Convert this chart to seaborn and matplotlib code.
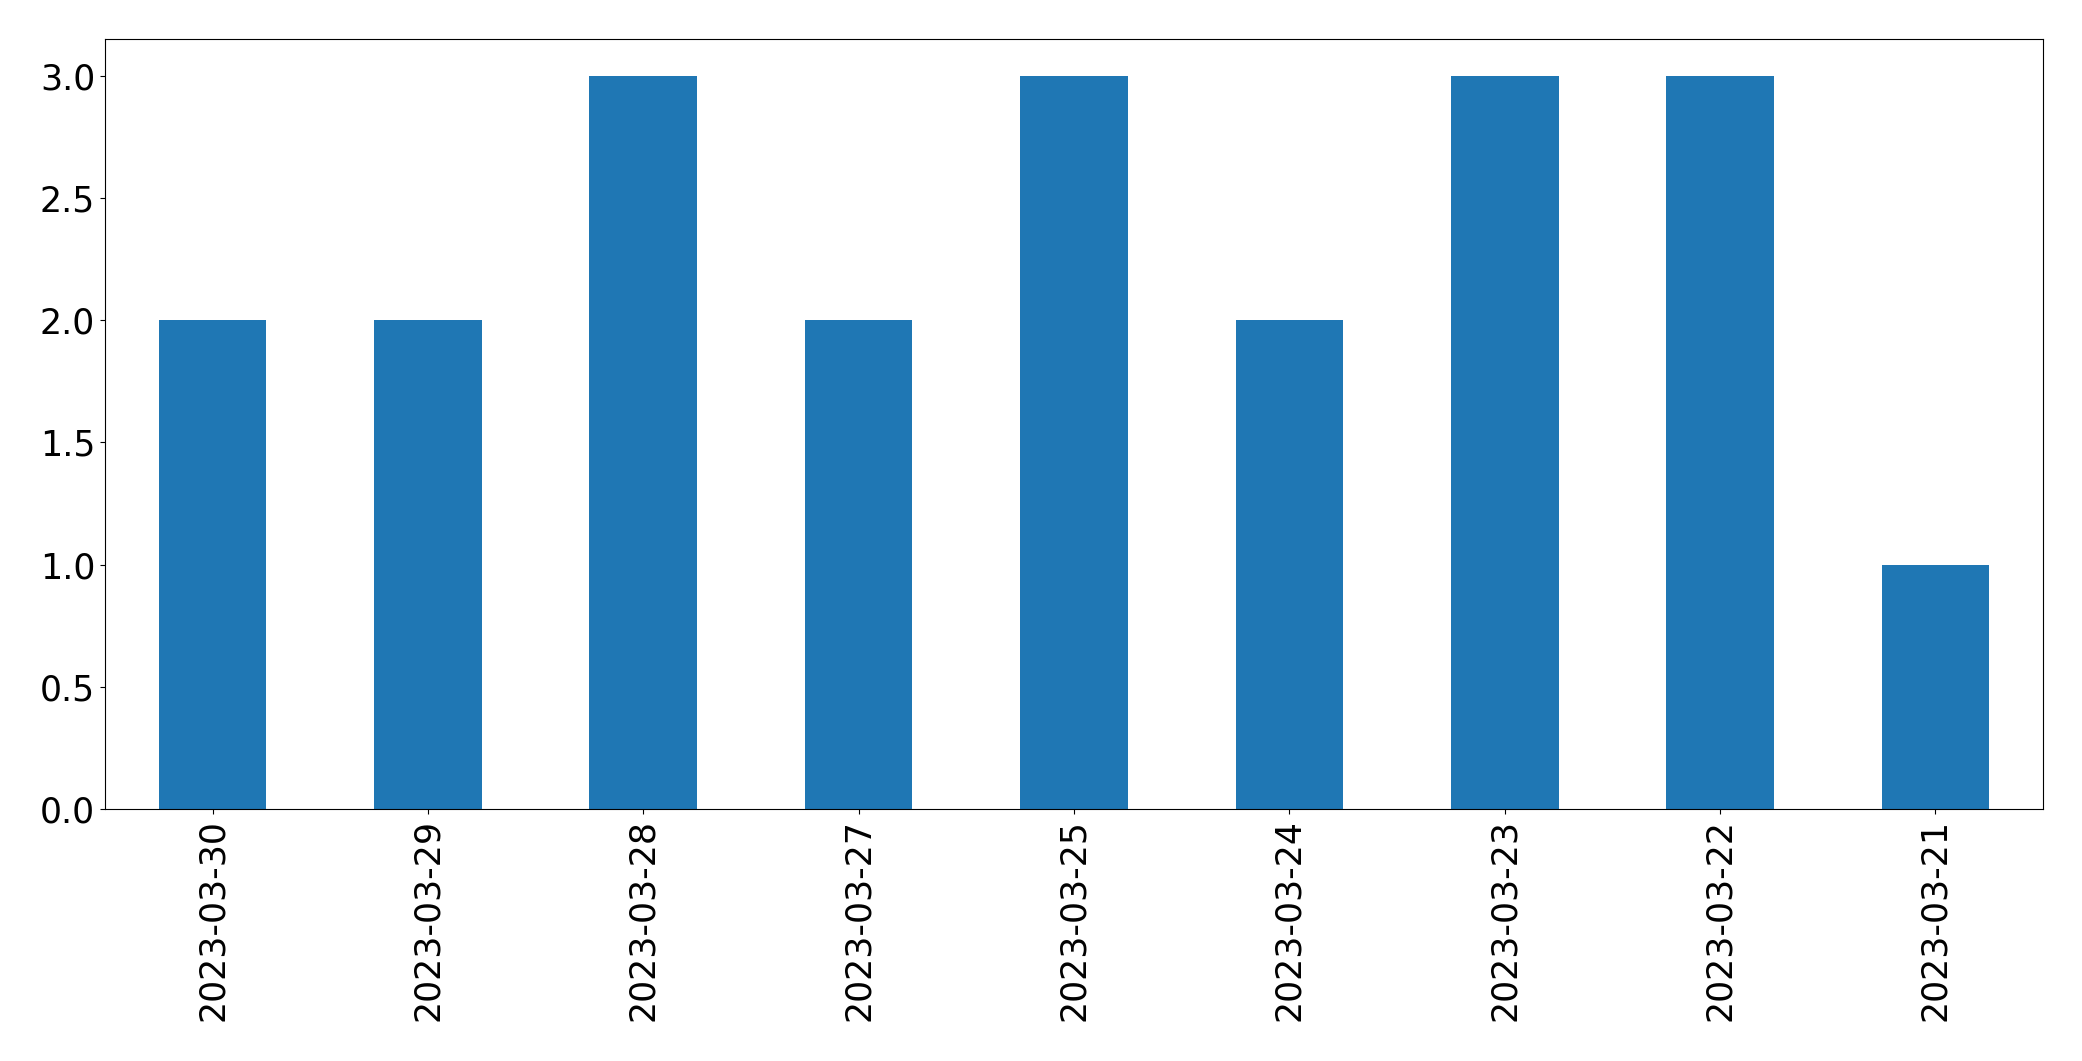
import matplotlib
matplotlib.use("Agg")
import matplotlib.pyplot as plt
import seaborn as sns
import pandas as pd

dates = ["2023-03-30", "2023-03-29", "2023-03-28", "2023-03-27", "2023-03-25",
         "2023-03-24", "2023-03-23", "2023-03-22", "2023-03-21"]
counts = [2, 2, 3, 2, 3, 2, 3, 3, 1]

df = pd.DataFrame({"date": dates, "count": counts})

fig = plt.figure(figsize=(20.82, 10.61), dpi=100)
ax = fig.add_axes([0.0504, 0.2375, 0.9309, 0.7257])

sns.barplot(data=df, x="date", y="count", order=dates, color="#1f77b4",
            saturation=1, width=0.5, ax=ax)

ax.set_xlim(-0.5, len(dates) - 0.5)
ax.set_ylim(0, 3.15)
ax.set_yticks([0, 0.5, 1.0, 1.5, 2.0, 2.5, 3.0])
ax.set_xlabel("")
ax.set_ylabel("")
ax.tick_params(axis="both", labelsize=25)
ax.tick_params(axis="x", labelrotation=90)

fig.savefig("out.png", dpi=100)
